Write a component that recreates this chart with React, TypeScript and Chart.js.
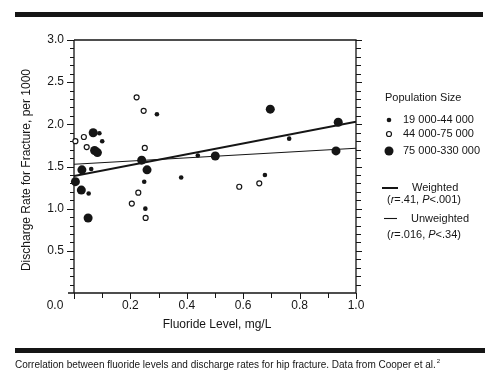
import React, { useEffect, useRef } from "react";
import { Chart, registerables } from "chart.js";

Chart.register(...registerables);

// ---- Data ----
// Population 19 000-44 000 (small filled dots)
const smallX = [0.294, 0.1, 0.09, 0.061, 0.052, 0.249, 0.253, 0.38, 0.439, 0.677, 0.763];
const smallY = [2.12, 1.8, 1.895, 1.47, 1.18, 1.32, 1.0, 1.37, 1.63, 1.4, 1.83];
// Population 44 000-75 000 (open circles)
const mediumX = [0.005, 0.035, 0.045, 0.222, 0.247, 0.251, 0.228, 0.205, 0.254, 0.586, 0.657];
const mediumY = [1.8, 1.85, 1.73, 2.32, 2.16, 1.72, 1.19, 1.06, 0.89, 1.26, 1.3];
// Population 75 000-330 000 (large filled dots)
const largeX = [0.068, 0.005, 0.028, 0.026, 0.05, 0.073, 0.083, 0.24, 0.259, 0.501, 0.696, 0.937, 0.929];
const largeY = [1.9, 1.32, 1.46, 1.22, 0.89, 1.69, 1.665, 1.575, 1.46, 1.625, 2.18, 2.025, 1.685];
// Regression lines
const fitX = [0, 1];
const weightedFit = [1.388, 2.03];
const unweightedFit = [1.527, 1.717];

// Axis ticks
const yTickValues = [0.5, 1.0, 1.5, 2.0, 2.5, 3.0];
const yTickLabels = ["0.5", "1.0", "1.5", "2.0", "2.5", "3.0"];
const xTickValues = [0, 0.2, 0.4, 0.6, 0.8, 1.0];
const xTickLabels = ["0.0", "0.2", "0.4", "0.6", "0.8", "1.0"];

const legendTitle = "Population Size";
const legendLabels = ["19 000-44 000", "44 000-75 000", "75 000-330 000"];
const xTitle = "Fluoride Level, mg/L";
const yTitle = "Discharge Rate for Fracture, per 1000";
const caption = "Correlation between fluoride levels and discharge rates for hip fracture. Data from Cooper et al.";

const FONT = '"Liberation Sans", Arial, Helvetica, sans-serif';
const INK = "#151515";

const toPts = (xs: number[], ys: number[]) => xs.map((x, i) => ({ x, y: ys[i] }));

const decorPlugin = {
  id: "decor",
  beforeDatasetsDraw(chart: any) {
    const { ctx, scales } = chart;
    const xs = scales.x;
    const ys = scales.y;
    const L = xs.getPixelForValue(0);
    const R = xs.getPixelForValue(1);
    const T = ys.getPixelForValue(3);
    const B = ys.getPixelForValue(0);
    ctx.save();
    ctx.strokeStyle = INK;
    ctx.fillStyle = INK;

    // top and bottom heavy bars
    ctx.fillRect(15, 12, 468, 5);
    ctx.fillRect(15, 348, 470, 5);

    // frame
    ctx.lineWidth = 1.3;
    ctx.beginPath();
    ctx.moveTo(L, T);
    ctx.lineTo(R, T);
    ctx.lineTo(R, B);
    ctx.moveTo(L - 6, B);
    ctx.lineTo(R, B);
    ctx.moveTo(L, T);
    ctx.lineTo(L, B);
    ctx.stroke();

    // y ticks (left outward, right outward)
    ctx.lineWidth = 1;
    ctx.beginPath();
    for (let i = 1; i <= 30; i++) {
      const py = Math.round(ys.getPixelForValue(i / 10)) + 0.5;
      const major = i % 5 === 0;
      ctx.moveTo(L, py);
      ctx.lineTo(L - (major ? 7 : 4), py);
      ctx.moveTo(R, py);
      ctx.lineTo(R + (major ? 6 : 5), py);
    }
    // x ticks downward
    for (let i = 0; i <= 10; i++) {
      const px = Math.round(xs.getPixelForValue(i / 10)) + 0.5;
      ctx.moveTo(px, B);
      ctx.lineTo(px, B + (i % 2 === 0 ? 6 : 5));
    }
    ctx.stroke();

    // tick labels
    ctx.font = `12px ${FONT}`;
    ctx.textBaseline = "middle";
    ctx.textAlign = "right";
    yTickValues.forEach((v, i) => {
      ctx.fillText(yTickLabels[i], L - 10, ys.getPixelForValue(v));
    });
    ctx.textAlign = "center";
    xTickValues.forEach((v, i) => {
      const px = xs.getPixelForValue(v) + (v === 0 ? -19 : 0);
      ctx.fillText(xTickLabels[i], px, B + 13);
    });

    // axis titles
    ctx.fillText(xTitle, 217, 325);
    ctx.save();
    ctx.translate(27, 170);
    ctx.rotate(-Math.PI / 2);
    ctx.fillText(yTitle, 0, 0);
    ctx.restore();

    // legend
    ctx.textAlign = "left";
    ctx.font = `11px ${FONT}`;
    ctx.fillText(legendTitle, 385, 98);
    const rowsY = [120, 134, 151];
    rowsY.forEach((ry, i) => ctx.fillText(legendLabels[i], 403, ry));
    ctx.beginPath();
    ctx.arc(389, rowsY[0], 2.3, 0, Math.PI * 2);
    ctx.fill();
    ctx.beginPath();
    ctx.arc(389, rowsY[2], 4.5, 0, Math.PI * 2);
    ctx.fill();
    ctx.beginPath();
    ctx.lineWidth = 1.2;
    ctx.fillStyle = "#fff";
    ctx.arc(389, rowsY[1], 2.5, 0, Math.PI * 2);
    ctx.fill();
    ctx.stroke();
    ctx.fillStyle = INK;

    // regression legend
    ctx.lineWidth = 2;
    ctx.beginPath();
    ctx.moveTo(382, 188);
    ctx.lineTo(398, 188);
    ctx.stroke();
    ctx.lineWidth = 1.1;
    ctx.beginPath();
    ctx.moveTo(384, 218.5);
    ctx.lineTo(397, 218.5);
    ctx.stroke();
    ctx.fillText("Weighted", 412, 188);
    ctx.fillText("Unweighted", 411, 219);
    const drawRich = (parts: [string, boolean][], x0: number, y0: number) => {
      let x = x0;
      parts.forEach(([t, it]) => {
        ctx.font = `${it ? "italic " : ""}11px ${FONT}`;
        ctx.fillText(t, x, y0);
        x += ctx.measureText(t).width;
      });
    };
    drawRich([["(", false], ["r", true], ["=.41, ", false], ["P", true], ["<.001)", false]], 387, 200);
    drawRich([["(", false], ["r", true], ["=.016, ", false], ["P", true], ["<.34)", false]], 387, 235);

    // caption
    ctx.font = `10px ${FONT}`;
    ctx.fillText(caption, 15, 365);
    const cw = ctx.measureText(caption).width;
    ctx.font = `6px ${FONT}`;
    ctx.fillText("2", 15 + cw + 1, 361);

    ctx.restore();
  },
};

export default function App() {
  const ref = useRef<HTMLCanvasElement | null>(null);
  useEffect(() => {
    if (!ref.current) return;
    const chart = new Chart(ref.current, {
      type: "scatter",
      data: {
        datasets: [
          {
            label: legendLabels[2],
            data: toPts(largeX, largeY),
            pointRadius: 4.5,
            pointBackgroundColor: INK,
            pointBorderWidth: 0,
            clip: false,
          } as any,
          {
            label: legendLabels[0],
            data: toPts(smallX, smallY),
            pointRadius: 2.3,
            pointBackgroundColor: INK,
            pointBorderWidth: 0,
            clip: false,
          },
          {
            label: legendLabels[1],
            data: toPts(mediumX, mediumY),
            pointRadius: 2.5,
            pointBackgroundColor: "#fff",
            pointBorderColor: INK,
            pointBorderWidth: 1.2,
            clip: false,
          },
          {
            label: "Weighted",
            type: "line",
            data: toPts(fitX, weightedFit),
            borderColor: INK,
            borderWidth: 2,
            pointRadius: 0,
          },
          {
            label: "Unweighted",
            type: "line",
            data: toPts(fitX, unweightedFit),
            borderColor: INK,
            borderWidth: 1.1,
            pointRadius: 0,
          },
        ],
      },
      options: {
        animation: false,
        responsive: false,
        devicePixelRatio: 1,
        layout: { padding: { left: 74, right: 144, top: 40, bottom: 92 } },
        scales: {
          x: { type: "linear", min: 0, max: 1, display: false },
          y: { type: "linear", min: 0, max: 3, display: false },
        },
        plugins: { legend: { display: false }, tooltip: { enabled: false } },
      },
      plugins: [decorPlugin],
    });
    return () => chart.destroy();
  }, []);
  return (
    <div style={{ position: "absolute", left: 0, top: 0, width: 500, height: 385, background: "#fff" }}>
      <canvas ref={ref} width={500} height={385} style={{ display: "block" }} />
    </div>
  );
}
